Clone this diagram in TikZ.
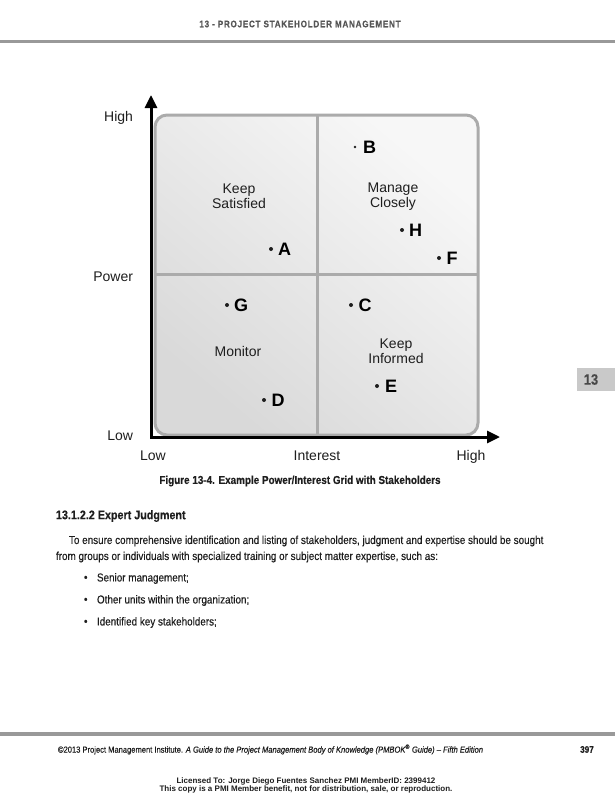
\documentclass[tikz,border=0pt]{standalone}
\usepackage{fontspec}
\setmainfont{Liberation Sans}
\newfontfamily\cond[FakeStretch=0.86,FakeBold=0.3]{Liberation Sans}
\newfontfamily\hdrfont[FakeStretch=0.85,LetterSpace=8,FakeBold=0.3]{Liberation Sans}
\usetikzlibrary{arrows.meta,shadings}
\definecolor{gridgray}{HTML}{ABABAB}
\definecolor{hdrgray}{HTML}{555555}
\definecolor{rulegray}{HTML}{999999}
\definecolor{tabgray}{HTML}{C9C9C9}
\definecolor{inkk}{HTML}{1E1E1E}
\tikzset{
  every node/.style={inner sep=0pt, outer sep=0pt, text=inkk},
  gridline/.style={draw=gridgray, line width=3pt},
  axisline/.style={draw=black, line width=3pt, line join=miter},
  axlbl/.style={font=\fontsize{14}{16}\selectfont, text height=10pt, text depth=0pt},
  quad/.style={font=\fontsize{14}{15.5}\selectfont, align=center},
  stk/.style={font=\fontsize{18}{18}\selectfont\bfseries, anchor=west, text height=13pt, text depth=0pt, text=black},
  dotmark/.style={circle, fill=inkk, minimum size=4pt},
  smalldot/.style={circle, fill=inkk, minimum size=2.6pt},
  body/.style={font=\cond\fontsize{11.5}{13}\selectfont, anchor=west},
}
\begin{document}
\begin{tikzpicture}[x=1pt,y=-1pt]
\useasboundingbox[fill=white] (0,0) rectangle (615,800);

% header
\node[font=\hdrfont\fontsize{9.5}{10}\selectfont\bfseries, text=hdrgray] (hdr) at (300,24) {13 - PROJECT STAKEHOLDER MANAGEMENT};
\coordinate (hl) at (0,41.5);
\coordinate (hr) at (615,41.5);
\draw[rulegray, line width=2.5pt] (hl) -- (hr);

% grid
\shade[top color=white!97!black, bottom color=black!15, shading angle=-40, rounded corners=12pt]
  (155,115) rectangle (478,435);
\draw[gridline, rounded corners=12pt] (155,115) rectangle (478,435);
\coordinate (vt) at (317,115);
\coordinate (vb) at (317,435);
\coordinate (hlft) at (155,274);
\coordinate (hrgt) at (478,274);
\draw[gridline] (vt) -- (vb);
\draw[gridline] (hlft) -- (hrgt);

% axes
\coordinate (O) at (151,437);
\coordinate (ytip) at (151,95);
\coordinate (xtip) at (500,437);
\draw[axisline, {Triangle[length=13pt,width=12pt]}-{Triangle[length=13pt,width=12pt]}] (ytip) |- (xtip);

% axis labels
\node[axlbl, anchor=east] (yhigh) at (133,116) {High};
\node[axlbl, anchor=east] (ypow) at (133,276) {Power};
\node[axlbl, anchor=east] (ylow) at (133,435) {Low};
\node[axlbl] (xlow) at (153,455) {Low};
\node[axlbl] (xint) at (317,455) {Interest};
\node[axlbl] (xhigh) at (471,455) {High};

% quadrant labels
\node[quad] (q1) at (239,196.5) {Keep\\Satisfied};
\node[quad] (q2) at (393,196.5) {Manage\\Closely};
\node[quad] (q3) at (238,351) {Monitor};
\node[quad] (q4) at (396,351) {Keep\\Informed};

% stakeholders
\node[smalldot] (dB) at (355,147) {};
\node[stk] (B) at (363,147) {B};
\node[dotmark] (dH) at (402,230) {};
\node[stk] (H) at (409,230) {H};
\node[dotmark] (dA) at (271,249) {};
\node[stk] (A) at (278,249) {A};
\node[dotmark] (dF) at (439,258) {};
\node[stk] (F) at (446.5,258) {F};
\node[dotmark] (dG) at (227,305) {};
\node[stk] (G) at (234,305) {G};
\node[dotmark] (dC) at (351,305) {};
\node[stk] (C) at (358.5,305) {C};
\node[dotmark] (dE) at (377,386) {};
\node[stk] (E) at (385,386) {E};
\node[dotmark] (dD) at (264,400) {};
\node[stk] (D) at (271.5,400) {D};

% side tab
\fill[tabgray] (577,368) rectangle (615,391);
\node[font=\cond\fontsize{15}{15}\selectfont\bfseries, text=hdrgray!85!black] (tab) at (591,379.5) {13};

% caption
\node[font=\cond\fontsize{11.5}{13}\selectfont\bfseries] (cap) at (300,481) {Figure 13-4. Example Power/Interest Grid with Stakeholders};

% section
\node[font=\cond\fontsize{12.5}{14}\selectfont\bfseries, anchor=west] (sec) at (56,516) {13.1.2.2 Expert Judgment};
\node[body] (p1) at (69,541) {To ensure comprehensive identification and listing of stakeholders, judgment and expertise should be sought};
\node[body] (p2) at (56,557) {from groups or individuals with specialized training or subject matter expertise, such as:};
\node[body] (b1d) at (84,578.5) {•};
\node[body] (b1) at (97,578.5) {Senior management;};
\node[body] (b2d) at (84,600.5) {•};
\node[body] (b2) at (97,600.5) {Other units within the organization;};
\node[body] (b3d) at (84,622.5) {•};
\node[body] (b3) at (97,622.5) {Identified key stakeholders;};

% footer
\fill[rulegray] (0,731.5) rectangle (615,736);
\node[font=\cond\fontsize{8.8}{10}\selectfont, anchor=west] (foot) at (58,749.5) {©2013 Project Management Institute. \itshape A Guide to the Project Management Body of Knowledge (PMBOK\textsuperscript{®} Guide) – Fifth Edition};
\node[font=\cond\fontsize{9.5}{10}\selectfont\bfseries] (pg) at (587,749.5) {397};
\node[font=\fontsize{8}{8}\selectfont\bfseries, align=center] (lic) at (306,785) {Licensed To: Jorge Diego Fuentes Sanchez PMI MemberID: 2399412\\This copy is a PMI Member benefit, not for distribution, sale, or reproduction.};
\end{tikzpicture}
\end{document}
